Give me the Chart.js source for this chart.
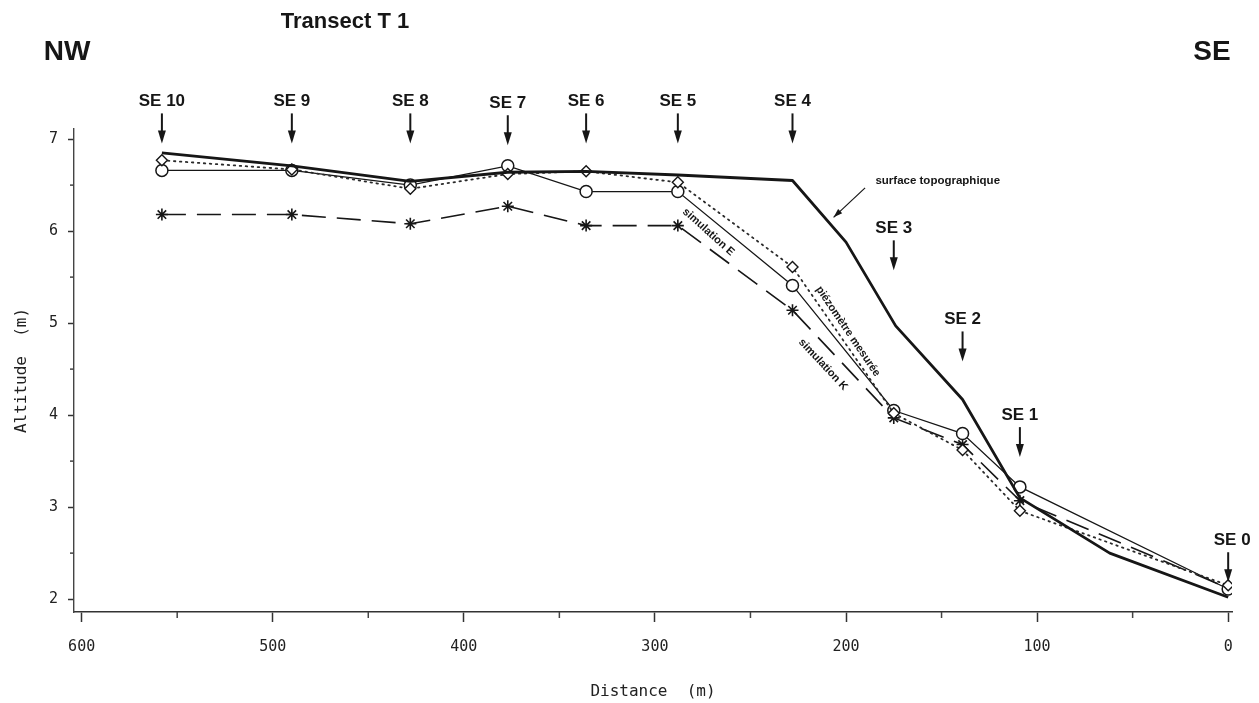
<!DOCTYPE html>
<html>
<head>
<meta charset="utf-8">
<title>Transect T 1</title>
<script src="https://cdn.jsdelivr.net/npm/chart.js@4.4.1/dist/chart.umd.min.js"></script>
<style>
    html, body { margin: 0; padding: 0; background: #fff; }
</style>
</head>
<body>
<canvas id="chart_transect" width="1259" height="703"></canvas>
<script>
// stations le long du transect (distance en m depuis SE 0)
const STATIONS = ["SE 10", "SE 9", "SE 8", "SE 7", "SE 6", "SE 5", "SE 4", "SE 3", "SE 2", "SE 1", "SE 0"];
const STATION_DIST = [558, 490, 428, 377, 336, 288, 228, 175, 139, 109, 0];

// altitudes (m)
const PIEZO_MESUREE = [6.77, 6.67, 6.46, 6.62, 6.65, 6.53, 5.61, 4.02, 3.62, 2.96, 2.15];
const SIMULATION_E = [6.66, 6.66, 6.50, 6.71, 6.43, 6.43, 5.41, 4.05, 3.80, 3.22, 2.11];
const SIMULATION_K = [6.18, 6.18, 6.08, 6.27, 6.06, 6.06, 5.14, 3.97, 3.68, 3.07, 2.12];

const SURFACE_DIST = [558, 490, 428, 377, 336, 288, 228, 200, 174, 139, 109, 62, 0];
const SURFACE_ALT = [6.85, 6.71, 6.54, 6.64, 6.65, 6.61, 6.55, 5.88, 4.97, 4.17, 3.10, 2.50, 2.02];

const X_TICKS = [0, 100, 200, 300, 400, 500, 600];
const X_MINOR = [50, 150, 250, 350, 450, 550];
const Y_TICKS = [2, 3, 4, 5, 6, 7];
const Y_MINOR = [2.5, 3.5, 4.5, 5.5, 6.5];

// hauteur des étiquettes de stations (en m, sur l'axe des altitudes)
const STATION_LABEL_ALT = [7.41, 7.41, 7.41, 7.39, 7.41, 7.41, 7.41, 6.03, 5.04, 4.0, 2.64];

const INK = "#161616";
const MONO = "'DejaVu Sans Mono', monospace";
const SANS = "'Liberation Sans', Arial, sans-serif";

const toPoints = (xs, ys) => xs.map((d, i) => ({ x: d, y: ys[i] }));

const annotations = {
    id: "annotations",
    afterDraw(chart) {
        const { ctx, chartArea, scales: { x, y } } = chart;
        ctx.save();
        ctx.fillStyle = INK;
        ctx.strokeStyle = INK;
        ctx.textAlign = "center";
        ctx.textBaseline = "middle";

        // en-tête
        ctx.font = "bold 28px " + SANS;
        ctx.fillText("NW", chartArea.left - 7, 52);
        ctx.fillText("SE", chartArea.right - 20, 52);
        ctx.font = "bold 22px " + SANS;
        ctx.fillText("Transect T 1", 345, 22);

        // petites graduations
        ctx.lineWidth = 1.5;
        ctx.strokeStyle = "#444";
        X_MINOR.forEach((d) => {
            const px = x.getPixelForValue(d);
            ctx.beginPath();
            ctx.moveTo(px, chartArea.bottom);
            ctx.lineTo(px, chartArea.bottom + 6);
            ctx.stroke();
        });
        Y_MINOR.forEach((v) => {
            const py = y.getPixelForValue(v);
            ctx.beginPath();
            ctx.moveTo(chartArea.left - 4, py);
            ctx.lineTo(chartArea.left, py);
            ctx.stroke();
        });

        // stations + flèches
        ctx.strokeStyle = INK;
        ctx.font = "bold 17px " + SANS;
        STATIONS.forEach((name, i) => {
            const px = x.getPixelForValue(STATION_DIST[i]);
            const py = y.getPixelForValue(STATION_LABEL_ALT[i]);
            ctx.fillText(name, px + (i === 10 ? 4 : 0), py);
            const top = py + 12;
            const tip = py + 42;
            ctx.lineWidth = 2;
            ctx.beginPath();
            ctx.moveTo(px, top);
            ctx.lineTo(px, tip - 8);
            ctx.stroke();
            ctx.beginPath();
            ctx.moveTo(px - 4, tip - 13);
            ctx.lineTo(px + 4, tip - 13);
            ctx.lineTo(px, tip);
            ctx.closePath();
            ctx.fill();
        });

        // surface topographique + flèche
        ctx.font = "bold 11.5px " + SANS;
        ctx.fillText("surface topographique", x.getPixelForValue(152), y.getPixelForValue(6.55));
        const ax0 = x.getPixelForValue(190), ay0 = y.getPixelForValue(6.47);
        const ax1 = x.getPixelForValue(206.5), ay1 = y.getPixelForValue(6.15);
        ctx.lineWidth = 1.2;
        ctx.beginPath();
        ctx.moveTo(ax0, ay0);
        ctx.lineTo(ax1, ay1);
        ctx.stroke();
        const ang = Math.atan2(ay1 - ay0, ax1 - ax0);
        ctx.beginPath();
        ctx.moveTo(ax1, ay1);
        ctx.lineTo(ax1 - 9 * Math.cos(ang) + 3 * Math.sin(ang), ay1 - 9 * Math.sin(ang) - 3 * Math.cos(ang));
        ctx.lineTo(ax1 - 9 * Math.cos(ang) - 3 * Math.sin(ang), ay1 - 9 * Math.sin(ang) + 3 * Math.cos(ang));
        ctx.closePath();
        ctx.fill();

        // étiquettes le long des courbes
        const along = (text, d, v, deg) => {
            ctx.save();
            ctx.translate(x.getPixelForValue(d), y.getPixelForValue(v));
            ctx.rotate((deg * Math.PI) / 180);
            ctx.fillText(text, 0, 0);
            ctx.restore();
        };
        ctx.font = "bold 11px " + SANS;
        along("simulation E", 272, 5.99, 42);
        along("piézomètre mesurée", 199, 4.91, 56);
        along("simulation K", 212, 4.55, 47);

        ctx.restore();
    },
};

const ctx = document.getElementById("chart_transect");
const transectChart = new Chart(ctx, {
    type: "line",
    data: {
        datasets: [
            {
                label: "surface topographique",
                data: toPoints(SURFACE_DIST, SURFACE_ALT),
                borderColor: INK,
                borderWidth: 2.8,
                borderJoinStyle: "round",
                pointRadius: 0,
            },
            {
                label: "piézomètre mesurée",
                data: toPoints(STATION_DIST, PIEZO_MESUREE),
                borderColor: "#2a2a2a",
                borderWidth: 1.8,
                borderDash: [1.5, 4.5],
                borderCapStyle: "round",
                pointStyle: "rectRot",
                pointRadius: 5.5,
                pointBorderWidth: 1.4,
                pointBorderColor: INK,
                pointBackgroundColor: "#fff",
            },
            {
                label: "simulation E",
                data: toPoints(STATION_DIST, SIMULATION_E),
                borderColor: INK,
                borderWidth: 1.3,
                pointStyle: "circle",
                pointRadius: 6,
                pointBorderWidth: 1.5,
                pointBorderColor: INK,
                pointBackgroundColor: "#fff",
            },
            {
                label: "simulation K",
                data: toPoints(STATION_DIST, SIMULATION_K),
                borderColor: INK,
                borderWidth: 1.6,
                borderDash: [24, 11],
                pointStyle: "star",
                pointRadius: 6,
                pointBorderWidth: 1.6,
                pointBorderColor: INK,
                pointBackgroundColor: INK,
            },
        ],
    },
    options: {
        responsive: false,
        animation: false,
        devicePixelRatio: 1,
        layout: {
            padding: { top: 129, right: 27, left: 0, bottom: 0 },
        },
        plugins: {
            legend: { display: false },
            tooltip: { enabled: false },
        },
        scales: {
            x: {
                type: "linear",
                reverse: true,
                min: -2,
                max: 604,
                afterBuildTicks: (s) => {
                    s.ticks = X_TICKS.map((value) => ({ value }));
                },
                afterFit: (s) => {
                    s.height = 91;
                },
                border: { display: true, color: "#333", width: 1.6 },
                grid: { drawOnChartArea: false, drawTicks: true, tickLength: 10, tickWidth: 1.5, color: "#333" },
                ticks: {
                    padding: 16,
                    color: "#222",
                    maxRotation: 0,
                    autoSkip: false,
                    font: { family: MONO, size: 15 },
                },
                title: {
                    display: true,
                    text: "Distance  (m)",
                    color: "#222",
                    font: { family: MONO, size: 16 },
                    padding: { top: 0, bottom: 2 },
                },
            },
            y: {
                type: "linear",
                min: 1.86,
                max: 7.11,
                afterBuildTicks: (s) => {
                    s.ticks = Y_TICKS.map((value) => ({ value }));
                },
                afterFit: (s) => {
                    s.width = 74;
                },
                border: { display: true, color: "#444", width: 1.4 },
                grid: { drawOnChartArea: false, drawTicks: true, tickLength: 6, tickWidth: 1.5, color: "#333" },
                ticks: {
                    padding: 10,
                    color: "#222",
                    autoSkip: false,
                    font: { family: MONO, size: 15 },
                },
                title: {
                    display: true,
                    text: "Altitude  (m)",
                    color: "#222",
                    font: { family: MONO, size: 16 },
                    padding: { top: 12, bottom: 0 },
                },
            },
        },
    },
    plugins: [annotations],
});
</script>
</body>
</html>
